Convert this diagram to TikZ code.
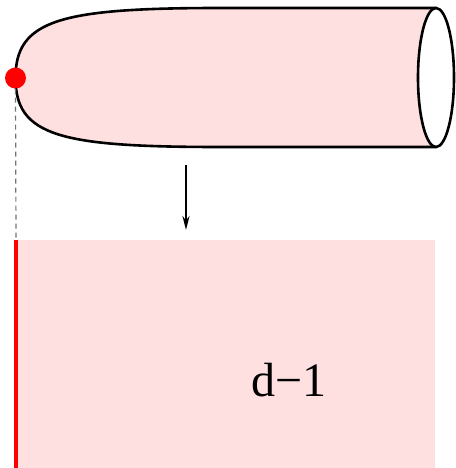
\documentclass[tikz,border=0pt]{standalone}
\usepackage{fontspec}
\setmainfont{Liberation Serif}
\usetikzlibrary{positioning,arrows.meta}

\begin{document}
\begin{tikzpicture}[
    x=1pt, y=-1pt,
    outline/.style={draw=black, line width=2.6pt},
    tube/.style={fill=tubepink},
    marker/.style={circle, fill=red, inner sep=0pt, minimum size=21pt},
    guide/.style={draw=black!55, dashed, line width=1.2pt, dash pattern=on 5pt off 4pt},
    arrow/.style={-{Stealth[length=14pt, width=7pt]}, line width=2.6pt},
    label/.style={font=\fontsize{48}{52}\selectfont},
]
\definecolor{tubepink}{RGB}{255,224,224}
\useasboundingbox (0,0) rectangle (455,468);

% Tube with rounded tip
\coordinate (tip) at (15.5,78);
\coordinate (topend) at (436,8);
\coordinate (botend) at (436,147);
\fill[tube] (tip) .. controls (15.5,20) and (60,8) .. (220,8) -- (topend)
    -- (botend) -- (220,147) .. controls (60,147) and (15.5,136) .. (tip) -- cycle;
\draw[outline] (topend) -- (220,8) .. controls (60,8) and (15.5,20) .. (tip)
    .. controls (15.5,136) and (60,147) .. (220,147) -- (botend);
\draw[outline, fill=white] (436,77.5) ellipse [x radius=18pt, y radius=69.5pt];
\node[marker] (dot) at (tip) {};

% Projection
\coordinate (foot) at (16,240);
\draw[guide] (dot.south) -- (foot);
\coordinate (arrtop) at (186,165);
\coordinate (arrbot) at (186,230);
\draw[arrow] (arrtop) -- (arrbot);

% Base region
\fill[tube] (foot) rectangle (435,468);
\coordinate (base) at (16,468);
\draw[red, line width=3.5pt] (foot) -- (base);
\node[label] (dim) at (289,380) {d−1};
\end{tikzpicture}
\end{document}
